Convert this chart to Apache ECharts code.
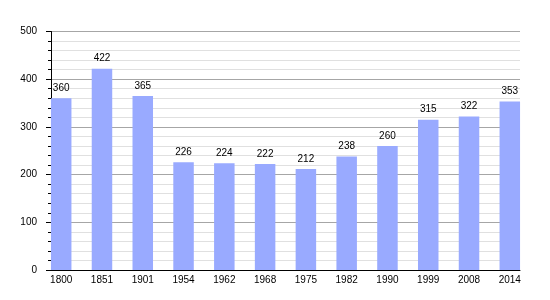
<!DOCTYPE html>
<html>
<head>
<meta charset="utf-8">
<style>
html, body { margin: 0; padding: 0; background: #fff; }
#chart { width: 550px; height: 300px; }
</style>
<script src="https://cdn.jsdelivr.net/npm/echarts@6/dist/echarts.min.js"></script>
</head>
<body>
<div id="chart"></div>
<script>
var categories = ['1800', '1851', '1901', '1954', '1962', '1968', '1975', '1982', '1990', '1999', '2008', '2014'];
var population = [360, 422, 365, 226, 224, 222, 212, 238, 260, 315, 322, 353];
var yTicks = [0, 100, 200, 300, 400, 500];

var chart = echarts.init(document.getElementById('chart'), null, { renderer: 'canvas' });
var idx = categories.map(function (c, i) { return i; });
var font = 'Liberation Sans, Arial, sans-serif';

chart.setOption({
  animation: false,
  backgroundColor: '#ffffff',
  grid: { left: 51, right: 30, top: 31.5, bottom: 30 },
  xAxis: {
    type: 'value',
    min: -0.25,
    max: categories.length - 0.75,
    axisLine: { show: true, onZero: false, lineStyle: { color: '#000', width: 1 } },
    axisTick: { show: false },
    splitLine: { show: false },
    axisLabel: {
      customValues: idx,
      formatter: function (v) { return categories[Math.round(v)]; },
      color: '#000', fontSize: 10, fontFamily: font, margin: 5
    }
  },
  yAxis: {
    type: 'value',
    min: yTicks[0],
    max: yTicks[yTicks.length - 1],
    interval: 100,
    axisLine: { show: true, onZero: false, lineStyle: { color: '#000', width: 1 } },
    axisTick: { show: true, length: 5, lineStyle: { color: '#000' } },
    minorTick: { show: true, splitNumber: 5, length: 3, lineStyle: { color: '#000' } },
    splitLine: { show: true, lineStyle: { color: '#a6a6a6', width: 1 } },
    minorSplitLine: { show: true, lineStyle: { color: '#e0e0e0', width: 1 } },
    axisLabel: { color: '#000', fontSize: 10, fontFamily: font, margin: 14 }
  },
  series: [{
    type: 'bar',
    barWidth: 20.5,
    data: population.map(function (v, i) { return [i, v]; }),
    itemStyle: { color: '#99aaff' },
    label: {
      show: true, position: 'top', distance: 5,
      color: '#000', fontSize: 10, fontFamily: font,
      formatter: function (p) { return p.value[1]; }
    }
  }]
});
</script>
</body>
</html>
